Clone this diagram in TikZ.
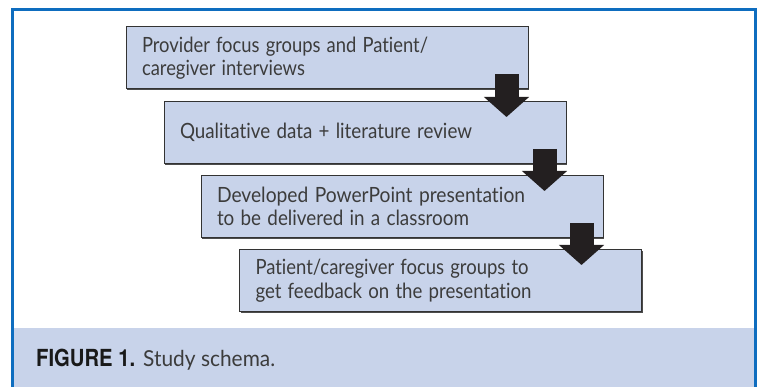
\documentclass[tikz,border=0pt]{standalone}
\usepackage{graphicx}
\usepackage{fontspec}
\usetikzlibrary{arrows.meta,calc,shadows}
\newfontfamily\boxfont[Ligatures=NoCommon]{Lato}
\newfontfamily\capfont{TeX Gyre Heros}
\definecolor{frameblue}{HTML}{0E6DBF}
\definecolor{panelfill}{HTML}{C8D3EA}
\definecolor{textgray}{HTML}{3C3C3C}
\definecolor{arrowdark}{HTML}{231F20}
% set one line of text to a given width, keeping its height
\newcommand\fitline[2]{\resizebox{#1}{\height}{#2}}
\tikzset{
  stepbox/.style={draw=black!80, line width=1pt, fill=panelfill,
    minimum width=402pt, minimum height=62pt, text width=370pt,
    inner xsep=16pt, align=left, text=textgray,
    font=\boxfont\fontsize{21}{23.5}\selectfont,
    drop shadow={shadow xshift=1.2pt, shadow yshift=-1.2pt, fill=black!70, opacity=1}},
  flowarrow/.style={draw=arrowdark, line width=24pt,
    -{Triangle[width=44pt,length=20pt]}}
}
\begin{document}
\begin{tikzpicture}[x=1pt,y=-1pt]
  \useasboundingbox (0,0) rectangle (760,387);
  % caption band and outer frame
  \fill[panelfill] (13.5,328) rectangle (754,387);
  \draw[frameblue, line width=3pt] (12,387) -- (12,10) -- (755.5,10) -- (755.5,387);

  % the four steps of the schema
  \node[stepbox] (b1) at (327,58)
    {\fitline{286pt}{Provider focus groups and Patient/}\\\fitline{163pt}{caregiver interviews}};
  \node[stepbox] (b2) at (365,132.5)
    {\fitline{292pt}{Qualitative data + literature review}};
  \node[stepbox] (b3) at (402,206.5)
    {\fitline{308pt}{Developed PowerPoint presentation}\\\fitline{252pt}{to be delivered in a classroom}};
  \node[stepbox] (b4) at (440.5,280.5)
    {\fitline{273pt}{Patient/caregiver focus groups to}\\\fitline{276pt}{get feedback on the presentation}};

  % block arrows between consecutive steps
  \foreach \a/\b in {b1/b2, b2/b3, b3/b4}{
    \coordinate (\a-top) at ($(\a.south east)+(-22pt,15pt)$);
    \coordinate (\a-tip) at ($(\a-top |- \b.north)+(0pt,-16pt)$);
    \draw[flowarrow] (\a-top) -- (\a-tip);
  }

  % caption
  \node[anchor=base west, inner sep=0pt, text=black!90] (cap) at (36,366)
    {\fitline{99pt}{\capfont\bfseries\fontsize{23.5}{28}\selectfont FIGURE 1.}\hspace{8pt}%
     \fitline{132pt}{\boxfont\color{textgray}\fontsize{22}{26}\selectfont Study schema.}};
\end{tikzpicture}
\end{document}
